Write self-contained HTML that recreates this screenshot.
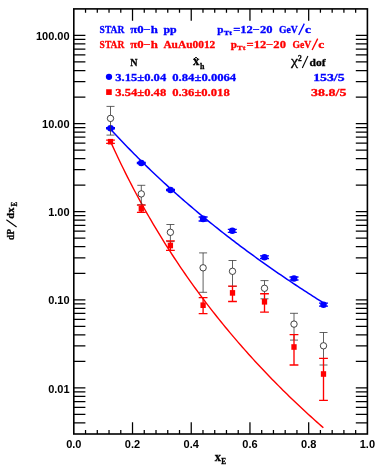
<!DOCTYPE html><html><head><meta charset="utf-8"><style>html,body{margin:0;padding:0;background:#fff}svg{display:block;will-change:transform;opacity:0.999}</style></head><body><svg width="382" height="468" viewBox="0 0 382 468">
<rect width="382" height="468" fill="#fff"/>
<path d="M85.54 434.0v-3.9M85.54 8.9v3.9M97.29 434.0v-3.9M97.29 8.9v3.9M109.03 434.0v-3.9M109.03 8.9v3.9M120.78 434.0v-3.9M120.78 8.9v3.9M132.52 434.0v-11.8M132.52 8.9v11.8M144.26 434.0v-3.9M144.26 8.9v3.9M156.01 434.0v-3.9M156.01 8.9v3.9M167.75 434.0v-3.9M167.75 8.9v3.9M179.50 434.0v-3.9M179.50 8.9v3.9M191.24 434.0v-11.8M191.24 8.9v11.8M202.98 434.0v-3.9M202.98 8.9v3.9M214.73 434.0v-3.9M214.73 8.9v3.9M226.47 434.0v-3.9M226.47 8.9v3.9M238.22 434.0v-3.9M238.22 8.9v3.9M249.96 434.0v-11.8M249.96 8.9v11.8M261.70 434.0v-3.9M261.70 8.9v3.9M273.45 434.0v-3.9M273.45 8.9v3.9M285.19 434.0v-3.9M285.19 8.9v3.9M296.94 434.0v-3.9M296.94 8.9v3.9M308.68 434.0v-11.8M308.68 8.9v11.8M320.42 434.0v-3.9M320.42 8.9v3.9M332.17 434.0v-3.9M332.17 8.9v3.9M343.91 434.0v-3.9M343.91 8.9v3.9M355.66 434.0v-3.9M355.66 8.9v3.9M73.8 422.99h11.6M367.4 422.99h-11.6M73.8 414.45h11.6M367.4 414.45h-11.6M73.8 407.47h11.6M367.4 407.47h-11.6M73.8 401.57h11.6M367.4 401.57h-11.6M73.8 396.46h11.6M367.4 396.46h-11.6M73.8 391.95h11.6M367.4 391.95h-11.6M73.8 387.92h11.6M367.4 387.92h-11.6M73.8 361.39h11.6M367.4 361.39h-11.6M73.8 345.88h11.6M367.4 345.88h-11.6M73.8 334.87h11.6M367.4 334.87h-11.6M73.8 326.33h11.6M367.4 326.33h-11.6M73.8 319.35h11.6M367.4 319.35h-11.6M73.8 313.45h11.6M367.4 313.45h-11.6M73.8 308.34h11.6M367.4 308.34h-11.6M73.8 303.83h11.6M367.4 303.83h-11.6M73.8 299.80h11.6M367.4 299.80h-11.6M73.8 273.27h11.6M367.4 273.27h-11.6M73.8 257.75h11.6M367.4 257.75h-11.6M73.8 246.74h11.6M367.4 246.74h-11.6M73.8 238.20h11.6M367.4 238.20h-11.6M73.8 231.23h11.6M367.4 231.23h-11.6M73.8 225.33h11.6M367.4 225.33h-11.6M73.8 220.22h11.6M367.4 220.22h-11.6M73.8 215.71h11.6M367.4 215.71h-11.6M73.8 211.67h11.6M367.4 211.67h-11.6M73.8 185.15h11.6M367.4 185.15h-11.6M73.8 169.63h11.6M367.4 169.63h-11.6M73.8 158.62h11.6M367.4 158.62h-11.6M73.8 150.08h11.6M367.4 150.08h-11.6M73.8 143.10h11.6M367.4 143.10h-11.6M73.8 137.20h11.6M367.4 137.20h-11.6M73.8 132.09h11.6M367.4 132.09h-11.6M73.8 127.58h11.6M367.4 127.58h-11.6M73.8 123.55h11.6M367.4 123.55h-11.6M73.8 97.02h11.6M367.4 97.02h-11.6M73.8 81.51h11.6M367.4 81.51h-11.6M73.8 70.50h11.6M367.4 70.50h-11.6M73.8 61.96h11.6M367.4 61.96h-11.6M73.8 54.98h11.6M367.4 54.98h-11.6M73.8 49.08h11.6M367.4 49.08h-11.6M73.8 43.97h11.6M367.4 43.97h-11.6M73.8 39.46h11.6M367.4 39.46h-11.6M73.8 35.43h11.6M367.4 35.43h-11.6" stroke="#000" stroke-width="1.25" fill="none"/>
<rect x="73.8" y="8.9" width="293.60" height="425.10" fill="none" stroke="#000" stroke-width="1.6"/>
<g font-family="Liberation Sans, sans-serif" font-weight="bold" font-size="11px" fill="#000">
<text x="69.6" y="40.03" text-anchor="end">100.00</text>
<text x="69.6" y="128.15" text-anchor="end">10.00</text>
<text x="69.6" y="216.27" text-anchor="end">1.00</text>
<text x="69.6" y="304.40" text-anchor="end">0.10</text>
<text x="69.6" y="392.52" text-anchor="end">0.01</text>
<text x="73.80" y="447.9" text-anchor="middle">0.0</text>
<text x="132.52" y="447.9" text-anchor="middle">0.2</text>
<text x="191.24" y="447.9" text-anchor="middle">0.4</text>
<text x="249.96" y="447.9" text-anchor="middle">0.6</text>
<text x="308.68" y="447.9" text-anchor="middle">0.8</text>
<text x="367.40" y="447.9" text-anchor="middle">1.0</text>
</g>
<polyline points="110.50,129.08 112.63,131.40 114.76,133.70 116.89,135.99 119.01,138.26 121.14,140.51 123.27,142.75 125.40,144.97 127.53,147.17 129.66,149.36 131.79,151.54 133.91,153.69 136.04,155.84 138.17,157.97 140.30,160.08 142.43,162.18 144.56,164.27 146.69,166.34 148.81,168.40 150.94,170.44 153.07,172.47 155.20,174.49 157.33,176.50 159.46,178.49 161.59,180.47 163.71,182.44 165.84,184.39 167.97,186.33 170.10,188.26 172.23,190.18 174.36,192.09 176.49,193.98 178.62,195.87 180.74,197.74 182.87,199.60 185.00,201.45 187.13,203.29 189.26,205.12 191.39,206.93 193.52,208.74 195.64,210.53 197.77,212.32 199.90,214.10 202.03,215.86 204.16,217.62 206.29,219.36 208.42,221.10 210.54,222.82 212.67,224.54 214.80,226.25 216.93,227.95 219.06,229.63 221.19,231.31 223.32,232.98 225.44,234.64 227.57,236.30 229.70,237.94 231.83,239.58 233.96,241.20 236.09,242.82 238.22,244.43 240.34,246.03 242.47,247.62 244.60,249.21 246.73,250.78 248.86,252.35 250.99,253.91 253.12,255.47 255.24,257.01 257.37,258.55 259.50,260.08 261.63,261.60 263.76,263.12 265.89,264.63 268.02,266.13 270.14,267.62 272.27,269.11 274.40,270.59 276.53,272.06 278.66,273.52 280.79,274.98 282.92,276.43 285.05,277.88 287.17,279.31 289.30,280.75 291.43,282.17 293.56,283.59 295.69,285.00 297.82,286.40 299.95,287.80 302.07,289.20 304.20,290.58 306.33,291.96 308.46,293.34 310.59,294.70 312.72,296.07 314.85,297.42 316.97,298.77 319.10,300.12 321.23,301.46 323.36,302.79" fill="none" stroke="#0000ff" stroke-width="1.5"/>
<polyline points="110.50,141.45 112.63,146.14 114.76,150.75 116.89,155.30 119.01,159.78 121.14,164.20 123.27,168.55 125.40,172.85 127.53,177.08 129.66,181.26 131.79,185.38 133.91,189.45 136.04,193.47 138.17,197.43 140.30,201.34 142.43,205.20 144.56,209.02 146.69,212.79 148.81,216.51 150.94,220.19 153.07,223.83 155.20,227.42 157.33,230.97 159.46,234.48 161.59,237.96 163.71,241.39 165.84,244.78 167.97,248.14 170.10,251.46 172.23,254.75 174.36,258.00 176.49,261.22 178.62,264.41 180.74,267.56 182.87,270.68 185.00,273.77 187.13,276.82 189.26,279.85 191.39,282.85 193.52,285.82 195.64,288.76 197.77,291.68 199.90,294.56 202.03,297.42 204.16,300.26 206.29,303.06 208.42,305.84 210.54,308.60 212.67,311.33 214.80,314.04 216.93,316.73 219.06,319.39 221.19,322.03 223.32,324.65 225.44,327.24 227.57,329.81 229.70,332.37 231.83,334.90 233.96,337.41 236.09,339.90 238.22,342.37 240.34,344.82 242.47,347.25 244.60,349.66 246.73,352.05 248.86,354.43 250.99,356.78 253.12,359.12 255.24,361.44 257.37,363.75 259.50,366.03 261.63,368.30 263.76,370.56 265.89,372.79 268.02,375.01 270.14,377.22 272.27,379.41 274.40,381.58 276.53,383.74 278.66,385.88 280.79,388.01 282.92,390.13 285.05,392.23 287.17,394.31 289.30,396.38 291.43,398.44 293.56,400.48 295.69,402.51 297.82,404.53 299.95,406.53 302.07,408.53 304.20,410.50 306.33,412.47 308.46,414.42 310.59,416.36 312.72,418.29 314.85,420.21 316.97,422.11 319.10,424.01 321.23,425.89 323.36,427.76" fill="none" stroke="#ff0000" stroke-width="1.4"/>
<path d="M110.5 127.6V128.8M106.0 127.6h9.0M106.0 128.8h9.0M141.3 162.4V163.6M136.8 162.4h9.0M136.8 163.6h9.0M170.5 189.4V190.6M166.0 189.4h9.0M166.0 190.6h9.0M203.1 217.0V221.0M198.6 217.0h9.0M198.6 221.0h9.0M232.3 229.4V232.3M227.8 229.4h9.0M227.8 232.3h9.0M264.5 255.9V258.5M260.0 255.9h9.0M260.0 258.5h9.0M294.0 277.0V280.0M289.5 277.0h9.0M289.5 280.0h9.0M323.5 303.2V306.2M319.0 303.2h9.0M319.0 306.2h9.0" stroke="#0000ff" stroke-width="1.3" fill="none"/>
<circle cx="110.5" cy="128.2" r="3.3" fill="#0000ff"/>
<circle cx="141.3" cy="163.0" r="3.3" fill="#0000ff"/>
<circle cx="170.5" cy="190.0" r="3.3" fill="#0000ff"/>
<circle cx="203.1" cy="218.9" r="3.3" fill="#0000ff"/>
<circle cx="232.3" cy="230.8" r="3.3" fill="#0000ff"/>
<circle cx="264.5" cy="257.2" r="3.3" fill="#0000ff"/>
<circle cx="294.0" cy="278.5" r="3.3" fill="#0000ff"/>
<circle cx="323.5" cy="304.7" r="3.3" fill="#0000ff"/>
<path d="M110.5 106.4V135.1M106.5 106.4h8.0M106.5 135.1h8.0M141.3 185.3V204.7M137.3 185.3h8.0M137.3 204.7h8.0M170.4 224.5V241.6M166.4 224.5h8.0M166.4 241.6h8.0M203.1 252.9V292.3M199.1 252.9h8.0M199.1 292.3h8.0M232.5 260.5V286.4M228.5 260.5h8.0M228.5 286.4h8.0M264.5 280.6V298.8M260.5 280.6h8.0M260.5 298.8h8.0M294.0 313.3V340.1M290.0 313.3h8.0M290.0 340.1h8.0M323.5 332.5V365.0M319.5 332.5h8.0M319.5 365.0h8.0" stroke="#3a3a3a" stroke-width="0.8" fill="none"/>
<circle cx="110.5" cy="118.4" r="3.2" fill="#fff" stroke="#222" stroke-width="0.85"/>
<circle cx="141.3" cy="193.9" r="3.2" fill="#fff" stroke="#222" stroke-width="0.85"/>
<circle cx="170.4" cy="232.3" r="3.2" fill="#fff" stroke="#222" stroke-width="0.85"/>
<circle cx="203.1" cy="267.8" r="3.2" fill="#fff" stroke="#222" stroke-width="0.85"/>
<circle cx="232.5" cy="271.3" r="3.2" fill="#fff" stroke="#222" stroke-width="0.85"/>
<circle cx="264.5" cy="288.3" r="3.2" fill="#fff" stroke="#222" stroke-width="0.85"/>
<circle cx="294.0" cy="324.1" r="3.2" fill="#fff" stroke="#222" stroke-width="0.85"/>
<circle cx="323.5" cy="345.8" r="3.2" fill="#fff" stroke="#222" stroke-width="0.85"/>
<path d="M110.5 140.1V143.3M106.1 140.1h8.8M106.1 143.3h8.8M141.3 205.1V212.3M136.9 205.1h8.8M136.9 212.3h8.8M170.4 240.8V250.3M166.0 240.8h8.8M166.0 250.3h8.8M203.1 297.6V313.6M198.7 297.6h8.8M198.7 313.6h8.8M232.5 286.1V301.5M228.1 286.1h8.8M228.1 301.5h8.8M264.5 293.7V312.1M260.1 293.7h8.8M260.1 312.1h8.8M294.0 334.6V365.0M289.6 334.6h8.8M289.6 365.0h8.8M323.5 358.4V400.3M319.1 358.4h8.8M319.1 400.3h8.8" stroke="#ff0000" stroke-width="1.35" fill="none"/>
<rect x="107.85" y="138.90" width="5.3" height="5.6" fill="#ff0000"/>
<rect x="138.65" y="206.00" width="5.3" height="5.6" fill="#ff0000"/>
<rect x="167.75" y="242.70" width="5.3" height="5.6" fill="#ff0000"/>
<rect x="200.45" y="302.40" width="5.3" height="5.6" fill="#ff0000"/>
<rect x="229.85" y="290.10" width="5.3" height="5.6" fill="#ff0000"/>
<rect x="261.85" y="299.00" width="5.3" height="5.6" fill="#ff0000"/>
<rect x="291.35" y="344.20" width="5.3" height="5.6" fill="#ff0000"/>
<rect x="320.85" y="371.20" width="5.3" height="5.6" fill="#ff0000"/>
<g font-family="Liberation Serif, serif" font-weight="bold" font-size="10.5px">
<text x="99.6" y="32.6" fill="#0000ff" stroke="#0000ff" stroke-width="0.3" textLength="24.7" lengthAdjust="spacingAndGlyphs">STAR</text>
<text x="130.2" y="32.6" fill="#0000ff" stroke="#0000ff" stroke-width="0.3" textLength="27.7" lengthAdjust="spacingAndGlyphs">π0−h</text>
<text x="163.4" y="32.6" fill="#0000ff" stroke="#0000ff" stroke-width="0.3" textLength="13.2" lengthAdjust="spacingAndGlyphs">pp</text>
<text x="99.6" y="47.6" fill="#ff0000" stroke="#ff0000" stroke-width="0.3" textLength="24.7" lengthAdjust="spacingAndGlyphs">STAR</text>
<text x="130.2" y="47.6" fill="#ff0000" stroke="#ff0000" stroke-width="0.3" textLength="27.7" lengthAdjust="spacingAndGlyphs">π0−h</text>
<text x="163.4" y="47.6" fill="#ff0000" stroke="#ff0000" stroke-width="0.3" textLength="51.9" lengthAdjust="spacingAndGlyphs">AuAu0012</text>
<text x="217.3" y="32.6" fill="#0000ff" stroke="#0000ff" stroke-width="0.3" textLength="6.2" lengthAdjust="spacingAndGlyphs">p</text>
<text x="223.70000000000002" y="34.800000000000004" fill="#0000ff" stroke="#0000ff" stroke-width="0.3" textLength="8.3" lengthAdjust="spacingAndGlyphs" font-size="7px">Tt</text>
<text x="233.20000000000002" y="32.6" fill="#0000ff" stroke="#0000ff" stroke-width="0.3" textLength="39.3" lengthAdjust="spacingAndGlyphs">=12−20</text>
<text x="279.0" y="32.6" fill="#0000ff" stroke="#0000ff" stroke-width="0.3" textLength="18.8" lengthAdjust="spacingAndGlyphs">GeV</text>
<path d="M298.7 35.0L304.3 23.6" stroke="#0000ff" stroke-width="1.3" fill="none"/>
<text x="304.9" y="32.6" fill="#0000ff" stroke="#0000ff" stroke-width="0.3" textLength="6.0" lengthAdjust="spacingAndGlyphs">c</text>
<text x="230.7" y="47.6" fill="#ff0000" stroke="#ff0000" stroke-width="0.3" textLength="6.2" lengthAdjust="spacingAndGlyphs">p</text>
<text x="237.1" y="49.800000000000004" fill="#ff0000" stroke="#ff0000" stroke-width="0.3" textLength="8.3" lengthAdjust="spacingAndGlyphs" font-size="7px">Tt</text>
<text x="246.6" y="47.6" fill="#ff0000" stroke="#ff0000" stroke-width="0.3" textLength="39.3" lengthAdjust="spacingAndGlyphs">=12−20</text>
<text x="292.4" y="47.6" fill="#ff0000" stroke="#ff0000" stroke-width="0.3" textLength="18.8" lengthAdjust="spacingAndGlyphs">GeV</text>
<path d="M312.1 50.0L317.7 38.6" stroke="#ff0000" stroke-width="1.3" fill="none"/>
<text x="318.29999999999995" y="47.6" fill="#ff0000" stroke="#ff0000" stroke-width="0.3" textLength="6.0" lengthAdjust="spacingAndGlyphs">c</text>
<text x="130.3" y="65.6" fill="#000" stroke="#000" stroke-width="0.3" textLength="7.3" lengthAdjust="spacingAndGlyphs">N</text>
<text x="193.1" y="65.4" fill="#000" stroke="#000" stroke-width="0.3" textLength="6.4" lengthAdjust="spacingAndGlyphs" font-size="11.5px">x</text>
<path d="M193.9 59.1L196 57.2L198.1 59.1" fill="none" stroke="#000" stroke-width="1"/>
<text x="199.9" y="68.6" fill="#000" stroke="#000" stroke-width="0.3" textLength="4.4" lengthAdjust="spacingAndGlyphs" font-size="8px">h</text>
<text x="291.0" y="64.9" fill="#000" stroke="#000" stroke-width="0.3" textLength="7.0" lengthAdjust="spacingAndGlyphs" font-weight="normal" font-size="12px">χ</text>
<text x="298.0" y="60.5" fill="#000" stroke="#000" stroke-width="0.3" textLength="3.7" lengthAdjust="spacingAndGlyphs" font-size="7.3px">2</text>
<path d="M302.3 67.9L307.9 56" stroke="#000" stroke-width="1.1" fill="none"/>
<text x="309.5" y="65.6" fill="#000" stroke="#000" stroke-width="0.3" textLength="16.0" lengthAdjust="spacingAndGlyphs">dof</text>
<text x="115.3" y="80.6" fill="#0000ff" stroke="#0000ff" stroke-width="0.3" textLength="50.9" lengthAdjust="spacingAndGlyphs">3.15±0.04</text>
<text x="172.3" y="80.6" fill="#0000ff" stroke="#0000ff" stroke-width="0.3" textLength="63.9" lengthAdjust="spacingAndGlyphs">0.84±0.0064</text>
<text x="313.2" y="80.6" fill="#0000ff" stroke="#0000ff" stroke-width="0.3" textLength="31.4" lengthAdjust="spacingAndGlyphs">153/5</text>
<text x="115.3" y="95.8" fill="#ff0000" stroke="#ff0000" stroke-width="0.3" textLength="50.9" lengthAdjust="spacingAndGlyphs">3.54±0.48</text>
<text x="172.3" y="95.8" fill="#ff0000" stroke="#ff0000" stroke-width="0.3" textLength="57.4" lengthAdjust="spacingAndGlyphs">0.36±0.018</text>
<text x="311.1" y="95.8" fill="#ff0000" stroke="#ff0000" stroke-width="0.3" textLength="35.3" lengthAdjust="spacingAndGlyphs">38.8/5</text>
<text x="214.7" y="461.2" fill="#000" stroke="#000" stroke-width="0.3" textLength="6.2" lengthAdjust="spacingAndGlyphs" font-size="12px">x</text>
<text x="221.3" y="463.8" fill="#000" stroke="#000" stroke-width="0.3" textLength="4.9" lengthAdjust="spacingAndGlyphs" font-size="8px">E</text>
<g transform="translate(13.9,239.9) rotate(-90)" stroke="#000" stroke-width="0.25">
<text x="0" y="0" fill="#000" stroke="#000" stroke-width="0.3" textLength="10.9" lengthAdjust="spacingAndGlyphs" font-size="11px">dP</text>
<path d="M12.9 2.7L20.1 -7.5" stroke="#000" stroke-width="1.1" fill="none"/>
<text x="21.2" y="0" fill="#000" stroke="#000" stroke-width="0.3" textLength="11.1" lengthAdjust="spacingAndGlyphs" font-size="11px">dx</text>
<text x="33.4" y="3.2" fill="#000" stroke="#000" stroke-width="0.3" textLength="4.6" lengthAdjust="spacingAndGlyphs" font-size="7.5px">E</text>
</g>
</g>
<circle cx="109.0" cy="76.8" r="3.15" fill="#0000ff"/>
<rect x="106.15" y="89.25" width="5.6" height="5.7" fill="#ff0000"/>
</svg></body></html>
